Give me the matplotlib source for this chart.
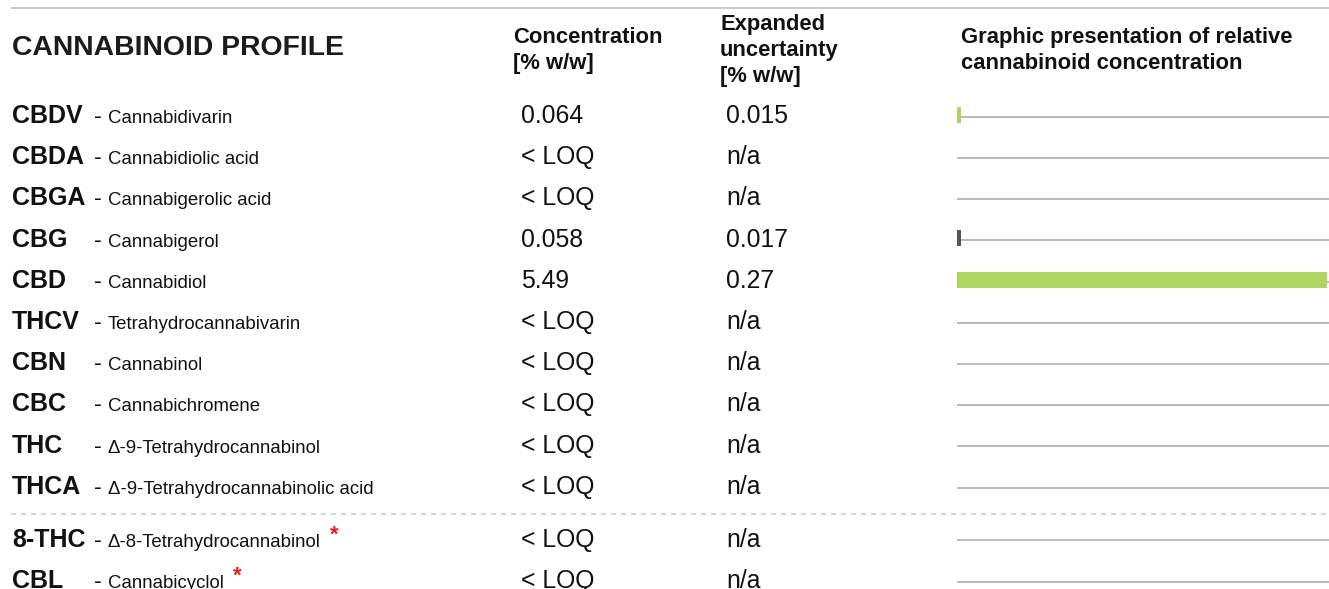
import matplotlib
matplotlib.use("Agg")
import matplotlib.pyplot as plt

plt.rcParams['font.family'] = ['Liberation Sans', 'DejaVu Sans']

# ---- data ----
abbrevs = ["CBDV", "CBDA", "CBGA", "CBG", "CBD", "THCV", "CBN", "CBC", "THC", "THCA", "8-THC", "CBL"]
names = ["Cannabidivarin", "Cannabidiolic acid", "Cannabigerolic acid", "Cannabigerol",
         "Cannabidiol", "Tetrahydrocannabivarin", "Cannabinol", "Cannabichromene",
         "Δ-9-Tetrahydrocannabinol", "Δ-9-Tetrahydrocannabinolic acid",
         "Δ-8-Tetrahydrocannabinol", "Cannabicyclol"]
concentration = ["0.064", "< LOQ", "< LOQ", "0.058", "5.49", "< LOQ", "< LOQ", "< LOQ",
                 "< LOQ", "< LOQ", "< LOQ", "< LOQ"]
uncertainty = ["0.015", "n/a", "n/a", "0.017", "0.27", "n/a", "n/a", "n/a", "n/a", "n/a",
               "n/a", "n/a"]
bar_values = [0.064, 0, 0, 0.058, 5.49, 0, 0, 0, 0, 0, 0, 0]
bar_colors = ["#aed562", "#aed562", "#aed562", "#555555", "#aed562", "#aed562",
              "#aed562", "#aed562", "#aed562", "#aed562", "#aed562", "#aed562"]
starred = [False] * 10 + [True, True]

# ---- layout ----
W, H = 1329, 589
fig = plt.figure(figsize=(W / 100, H / 100), dpi=100)
ax = fig.add_axes([0, 0, 1, 1])
ax.set_xlim(0, W)
ax.set_ylim(H, 0)
ax.axis('off')

PX = 72 / 100  # points per pixel
txt = '#111111'

row_base = 123.0
row_step = 41.2
extra_gap = 11.7
baselines = []
for i in range(len(abbrevs)):
    b = row_base + row_step * i + (extra_gap if i >= 10 else 0)
    baselines.append(b)

# top line
ax.plot([11, W], [7.5, 7.5], color='#cccccc', lw=2 * PX, solid_capstyle='butt')
# dashed separator
sep_y = (baselines[9] + baselines[10]) / 2 - 6
ax.plot([11, W], [sep_y, sep_y], color='#c8c8c8', lw=1.5 * PX, dashes=(5 / 1.5, 5 / 1.5))

# headers
ax.text(12, 55, "CANNABINOID PROFILE", fontsize=20.4, fontweight='bold', color='#1c1c1c',
        va='baseline', ha='left')
ax.text(513, 43, "Concentration", fontsize=15.8, fontweight='bold', color=txt, va='baseline')
ax.text(513, 69, "[% w/w]", fontsize=15.8, fontweight='bold', color=txt, va='baseline')
ax.text(720, 30, "Expanded", fontsize=15.8, fontweight='bold', color=txt, va='baseline')
ax.text(720, 56, "uncertainty", fontsize=15.8, fontweight='bold', color=txt, va='baseline')
ax.text(720, 82, "[% w/w]", fontsize=15.8, fontweight='bold', color=txt, va='baseline')
ax.text(961, 43, "Graphic presentation of relative", fontsize=15.8, fontweight='bold',
        color=txt, va='baseline')
ax.text(961, 69, "cannabinoid concentration", fontsize=15.8, fontweight='bold',
        color=txt, va='baseline')

# rows
for i, (ab, nm) in enumerate(zip(abbrevs, names)):
    b = baselines[i]
    ax.text(12, b, ab, fontsize=18, fontweight='bold', color=txt, va='baseline')
    ax.text(94, b, "-", fontsize=17, color=txt, va='baseline')
    t = ax.text(108, b, nm, fontsize=13.4, color=txt, va='baseline')
    if starred[i]:
        ax.annotate("*", xy=(1, 1), xycoords=t, xytext=(9, -7), textcoords='offset pixels',
                    fontsize=16, fontweight='bold', color='#ee1c1c', va='baseline', ha='left')
    ax.text(521, b, concentration[i], fontsize=17.8, color=txt, va='baseline')
    ax.text(726, b, uncertainty[i], fontsize=17.8, color=txt, va='baseline')

# bars
bx0 = 957
bax = fig.add_axes([bx0 / W, 0, (W - bx0) / W, 1])
bax.set_ylim(H, 0)
vmax = max(bar_values)
bax.set_xlim(0, vmax * (W - bx0) / 370)
bax.axis('off')
track_y = [b - 6.3 for b in baselines]
bax.hlines(track_y, 0, bax.get_xlim()[1], color='#bbbbbb', lw=2 * PX, zorder=1)
bax.barh([y - 2 for y in track_y], bar_values, height=16, left=0, color=bar_colors,
         zorder=2, linewidth=0)

fig.savefig("out.png", dpi=100)
